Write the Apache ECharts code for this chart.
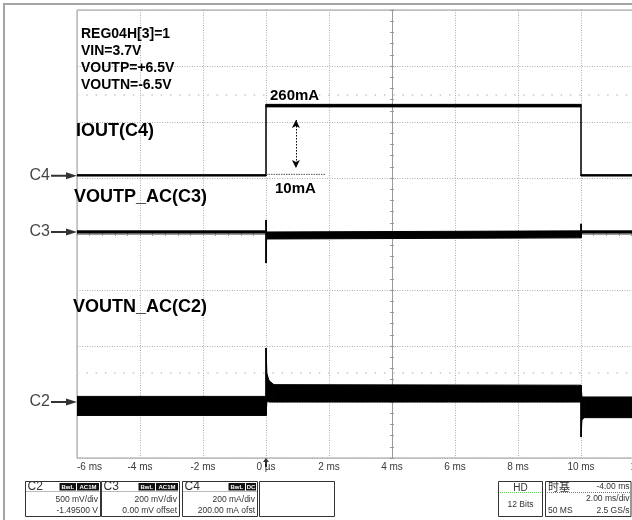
<!DOCTYPE html>
<html><head><meta charset="utf-8">
<script src="https://cdn.jsdelivr.net/npm/echarts@6/dist/echarts.min.js"></script>
<style>html,body{margin:0;padding:0;background:#fff}#c{width:632px;height:520px}</style>
</head><body><div id="c"></div>
<script>
// ---- time axis (ms) ----
const timeTicks  = [-6, -4, -2, 0, 2, 4, 6, 8, 10, 12, 14];
const timeLabels = ['-6 ms', '-4 ms', '-2 ms', '0 µs', '2 ms', '4 ms', '6 ms', '8 ms', '10 ms', '12 ms', '14 ms'];

// ---- channels ----
const channelNames = ['C4', 'C3', 'C2'];
const channelScale = [200, 200, 500];      // per division (mA, mV, mV)
const channelPos   = [1.0, 0.036, -3.0];   // reference level, divisions from centre
const markerPos    = [1.04, 0.036, -3.0];

// C4  IOUT (mA): lower / upper edge of trace
const c4Time = [-6, 0, 0, 10, 10, 14];
const c4Low  = [7, 7, 254, 254, 7, 7];
const c4High = [12, 12, 263, 263, 12, 12];

// C3  VOUTP_AC (mV)
const c3Time = [-6, 0, 0, 0.02, 10, 10, 10.02, 14];
const c3Low  = [-4, -4, -111, -25, -21, -21, -4, -4];
const c3High = [4, 4, 43, 0, 4, 29, 4, 4];

// C2  VOUTN_AC (mV)
const c2Time = [-6, 0, 0, 0.03, 0.1, 0.25, 10, 10, 10.03, 10.1, 14];
const c2Low  = [-120, -120, -120, 10, 0, 0, 0, -312, -160, -140, -140];
const c2High = [50, 50, 482, 250, 190, 155, 150, 150, 45, 45, 45];

// annotations
const infoLines   = ['REG04H[3]=1', 'VIN=3.7V', 'VOUTP=+6.5V', 'VOUTN=-6.5V'];
const traceTitles = ['IOUT(C4)', 'VOUTP_AC(C3)', 'VOUTN_AC(C2)'];
const levelTexts  = ['260mA', '10mA'];
const refLevelMA  = 13;          // dotted 10 mA reference line
const refLineEnd  = 1.9;         // ms
const dArrowTime  = 0.95;        // ms
const dArrowMA    = [207, 36];
const dotRowsDiv  = [2.48, -2.48];

// info boxes
const chBoxes = [
  {name: 'C2', badges: ['BwL', 'AC1M'], l1: '500 mV/div', l2: '-1.49500 V'},
  {name: 'C3', badges: ['BwL', 'AC1M'], l1: '200 mV/div', l2: '0.00 mV offset'},
  {name: 'C4', badges: ['BwL', 'DC'],   l1: '200 mA/div', l2: '200.00 mA ofst'}
];
const acqTexts = ['HD', '12 Bits'];
const tbTexts  = ['时基', '-4.00 ms', '2.00 ms/div', '50 MS', '2.5 GS/s'];

function toDiv(v, ch) { return channelPos[ch] + v / channelScale[ch]; }
function bandRows(t, lo, hi, ch) {
  const rows = [];
  for (let i = 0; i < t.length - 1; i++) {
    rows.push([t[i], toDiv(lo[i], ch), toDiv(hi[i], ch), t[i + 1], toDiv(lo[i + 1], ch), toDiv(hi[i + 1], ch)]);
  }
  return rows;
}
function renderBand(params, api) {
  const a = api.coord([api.value(0), api.value(2)]);
  const b = api.coord([api.value(3), api.value(5)]);
  const c = api.coord([api.value(3), api.value(4)]);
  const d = api.coord([api.value(0), api.value(1)]);
  return {type: 'polygon', shape: {points: [a, b, c, d]},
          style: {fill: '#000', stroke: '#000', lineWidth: 1}};
}
function bandSeries(t, lo, hi, ch) {
  return {type: 'custom', renderItem: renderBand, data: bandRows(t, lo, hi, ch),
          encode: {x: [0, 3], y: [1, 2, 4, 5]}, clip: true, z: 5, silent: true};
}

const FONT = '"Liberation Sans", Arial, sans-serif';
const G = [];
// outer frame
G.push({type: 'rect', shape: {x: 4, y: 4, width: 760, height: 600}, style: {fill: 'none', stroke: '#a4a4a4', lineWidth: 2}, z: 0});
function txt(x, y, text, font, fill, align) {
  G.push({type: 'text', x: x, y: y, z: 50,
    style: {text: text, font: font, fill: fill || '#000', align: align || 'left', textAlign: align || 'left',
            verticalAlign: 'middle', textVerticalAlign: 'middle'}});
}
infoLines.forEach((s, i) => txt(81, 34 + i * 17, s, 'bold 14px ' + FONT));
txt(76, 131, traceTitles[0], 'bold 18px ' + FONT);
txt(74, 197, traceTitles[1], 'bold 18px ' + FONT);
txt(73, 307, traceTitles[2], 'bold 18px ' + FONT);
txt(270, 96, levelTexts[0], 'bold 15px ' + FONT);
txt(275, 189, levelTexts[1], 'bold 15px ' + FONT);

// channel boxes
const boxX = [25.5, 101.5, 182.5], boxW = [75, 78, 75];
const badgeW = {'BwL': 16.5, 'AC1M': 22, 'DC': 10};
chBoxes.forEach((b, i) => {
  const x = boxX[i], w = boxW[i];
  G.push({type: 'rect', shape: {x: x, y: 481.5, width: w, height: 35}, style: {fill: '#fff', stroke: '#333', lineWidth: 1}, z: 40});
  G.push({type: 'line', shape: {x1: x + 1, y1: 491.5, x2: x + w - 1, y2: 491.5}, style: {stroke: '#777', lineWidth: 1, lineDash: [1, 1]}, z: 41});
  txt(x + 2, 487, b.name, '12px ' + FONT, '#333');
  let bx = x + w - 1.5;
  for (let k = b.badges.length - 1; k >= 0; k--) {
    const bw = badgeW[b.badges[k]];
    bx -= bw;
    G.push({type: 'rect', shape: {x: bx, y: 483, width: bw, height: 7.5}, style: {fill: '#111'}, z: 42});
    txt(bx + bw / 2, 486.9, b.badges[k], 'bold 6px ' + FONT, '#fff', 'center');
    bx -= 1;
  }
  txt(x + w - 2.5, 500, b.l1, '8.5px ' + FONT, '#333', 'right');
  txt(x + w - 2.5, 510.5, b.l2, '8.5px ' + FONT, '#333', 'right');
});
G.push({type: 'rect', shape: {x: 259.5, y: 481.5, width: 75, height: 35}, style: {fill: '#fff', stroke: '#333', lineWidth: 1}, z: 40});
// acquisition box
G.push({type: 'rect', shape: {x: 498.5, y: 481.5, width: 44, height: 35}, style: {fill: '#fff', stroke: '#333', lineWidth: 1}, z: 40});
G.push({type: 'line', shape: {x1: 500, y1: 492.5, x2: 541, y2: 492.5}, style: {stroke: '#6c6', lineWidth: 1, lineDash: [1, 1]}, z: 41});
txt(520.5, 488, acqTexts[0], '10px ' + FONT, '#333', 'center');
txt(520.5, 505, acqTexts[1], '8.5px ' + FONT, '#333', 'center');
// timebase box
G.push({type: 'rect', shape: {x: 545.5, y: 481.5, width: 85.5, height: 35}, style: {fill: '#fff', stroke: '#333', lineWidth: 1}, z: 40});
G.push({type: 'line', shape: {x1: 547, y1: 492.5, x2: 630, y2: 492.5}, style: {stroke: '#777', lineWidth: 1, lineDash: [1, 1]}, z: 41});
txt(548, 486.5, tbTexts[0], '11px "Noto Sans CJK SC", sans-serif', '#333');
txt(629.5, 486.5, tbTexts[1], '8.5px ' + FONT, '#333', 'right');
txt(629.5, 499, tbTexts[2], '8.5px ' + FONT, '#333', 'right');
txt(548, 510.5, tbTexts[3], '8.5px ' + FONT, '#333');
txt(629.5, 510.5, tbTexts[4], '8.5px ' + FONT, '#333', 'right');

const gridLine = {color: '#adadad', type: [1, 1.5], width: 1};
const option = {
  animation: false,
  backgroundColor: '#fff',
  grid: {left: 77, top: 10, width: 630, height: 448, show: true, borderColor: '#9a9a9a', borderWidth: 1,
         backgroundColor: 'transparent', containLabel: false, outerBoundsMode: 'none'},
  xAxis: [
    {type: 'value', min: timeTicks[0], max: timeTicks[timeTicks.length - 1], interval: 2, position: 'bottom',
     axisLine: {show: false, onZero: false}, axisTick: {show: false},
     axisLabel: {color: '#3a3a3a', fontSize: 10, fontFamily: FONT, margin: 4, alignMinLabel: 'left', hideOverlap: false,
                 formatter: v => timeLabels[timeTicks.indexOf(v)] || ''},
     splitLine: {show: true, lineStyle: gridLine}},
    {type: 'value', min: -10, max: 10, show: false, position: 'bottom', axisLine: {onZero: false}},
    {type: 'value', min: -6, max: 14, interval: 0.4, position: 'bottom',
     axisLine: {show: true, onZero: true, onZeroAxisIndex: 0, lineStyle: {color: '#9a9a9a', width: 1}},
     axisTick: {show: true, inside: true, length: 2, lineStyle: {color: '#9a9a9a'}}, axisLabel: {show: false}, splitLine: {show: false}},
    {type: 'value', min: -6, max: 14, interval: 0.4, position: 'bottom',
     axisLine: {show: true, onZero: true, onZeroAxisIndex: 0, lineStyle: {color: '#9a9a9a', width: 1}},
     axisTick: {show: true, inside: false, length: 2, lineStyle: {color: '#9a9a9a'}}, axisLabel: {show: false}, splitLine: {show: false}}
  ],
  yAxis: [
    {type: 'value', min: -4, max: 4, interval: 1, position: 'left',
     axisLine: {show: false, onZero: false}, axisTick: {show: false}, axisLabel: {show: false},
     splitLine: {show: true, lineStyle: gridLine}},
    {type: 'value', min: -4, max: 4, interval: 0.2, position: 'left',
     axisLine: {show: true, onZero: true, onZeroAxisIndex: 1, lineStyle: {color: '#9a9a9a', width: 1}},
     axisTick: {show: true, inside: true, length: 2, lineStyle: {color: '#9a9a9a'}}, axisLabel: {show: false}, splitLine: {show: false}},
    {type: 'value', min: -4, max: 4, interval: 0.2, position: 'left',
     axisLine: {show: true, onZero: true, onZeroAxisIndex: 1, lineStyle: {color: '#9a9a9a', width: 1}},
     axisTick: {show: true, inside: false, length: 2, lineStyle: {color: '#9a9a9a'}}, axisLabel: {show: false}, splitLine: {show: false}}
  ],
  series: [
    // faint dotted rows
    ...dotRowsDiv.map(d => ({type: 'line', data: [[timeTicks[0], d], [timeTicks[timeTicks.length - 1], d]], symbol: 'none', silent: true, z: 1,
      lineStyle: {color: '#c8c8c8', width: 1.5, type: [1.5, 7.8]}})),
    bandSeries(c4Time, c4Low, c4High, 0),
    bandSeries(c3Time, c3Low, c3High, 1),
    bandSeries(c2Time, c2Low, c2High, 2),
    // 10 mA reference line + double arrow
    {type: 'line', data: [[0, toDiv(refLevelMA, 0)], [refLineEnd, toDiv(refLevelMA, 0)]], symbol: 'none', silent: true, z: 6,
     lineStyle: {color: '#555', width: 1, type: [1.5, 1]},
     markLine: {silent: true, symbol: ['arrow', 'arrow'], symbolSize: [6, 8], label: {show: false},
       lineStyle: {color: '#000', width: 1, type: [1.5, 1.5]},
       data: [[{coord: [dArrowTime, toDiv(dArrowMA[0], 0)]}, {coord: [dArrowTime, toDiv(dArrowMA[1], 0)]}]]}},
    // channel markers
    {type: 'scatter', clip: false, silent: true, z: 10,
     symbol: 'path://M0,2.6 L15,2.6 L15,0 L26,3.5 L15,7 L15,4.4 L0,4.4 Z', symbolSize: [26, 7], symbolOffset: [-13, 0],
     itemStyle: {color: '#000'},
     label: {show: true, position: 'left', distance: 1, formatter: '{b}', color: '#111', fontSize: 16, fontFamily: FONT},
     data: channelNames.map((n, i) => ({name: n, value: [timeTicks[0], markerPos[i]]}))},
    // trigger marker
    {type: 'scatter', clip: false, silent: true, z: 10,
     symbol: 'path://M3,0 L6,4 L4,4 L4,9 L2,9 L2,4 L0,4 Z', symbolSize: [6, 9], symbolOffset: [0, 4.5],
     itemStyle: {color: '#000'}, data: [[0, -4]]}
  ],
  graphic: G
};
const chart = echarts.init(document.getElementById('c'));
chart.setOption(option);
</script>
</body></html>
